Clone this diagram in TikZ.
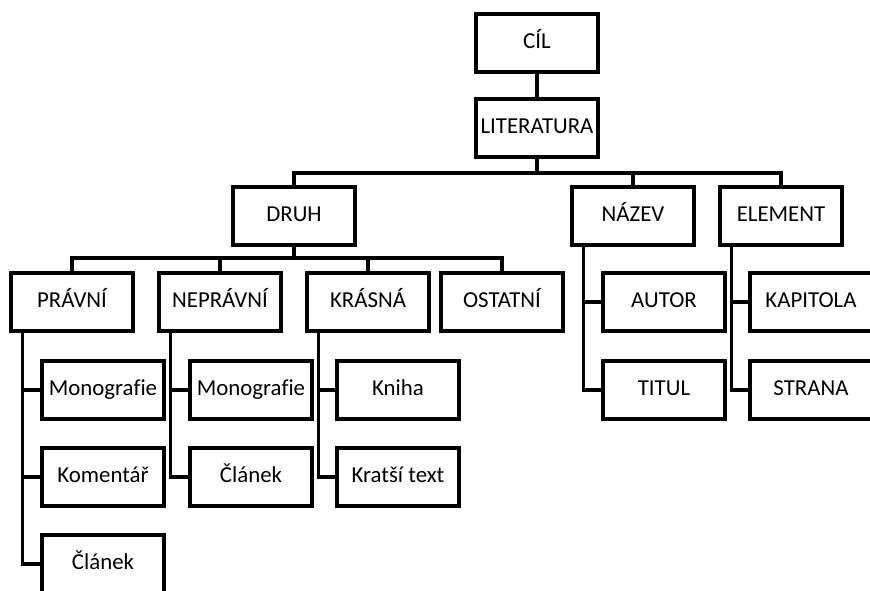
\documentclass[tikz,border=0pt]{standalone}
\usepackage{fontspec}
\setmainfont{Carlito}[Ligatures=NoCommon]
\usetikzlibrary{positioning}

\begin{document}
\begin{tikzpicture}[
  x=0.02cm,y=-0.02cm,
  every node/.style={font=\fontsize{13}{15}\selectfont, inner sep=0pt,
    text height=0.8em, text depth=0.156em},
  box/.style={draw=black,line width=2.1pt,fill=white,minimum width=2.43cm,minimum height=1.17cm},
  conn/.style={draw=black,line width=2.1pt}]

  \useasboundingbox (0,0) rectangle (870,591);
  \clip (0,0) rectangle (870,591);

  \node[box] (cil)      at (537, 43)  {CÍL};
  \node[box] (lit)      at (537,128)  {LITERATURA};
  \node[box] (druh)     at (294,216)  {DRUH};
  \node[box] (nazev)    at (633,216)  {NÁZEV};
  \node[box] (element)  at (781,216)  {ELEMENT};
  \node[box] (pravni)   at ( 72,302)  {PRÁVNÍ};
  \node[box] (nepravni) at (220,302)  {NEPRÁVNÍ};
  \node[box] (krasna)   at (368,302)  {KRÁSNÁ};
  \node[box] (ostatni)  at (502,302)  {OSTATNÍ};
  \node[box] (autor)    at (664,302)  {AUTOR};
  \node[box] (titul)    at (664,390)  {TITUL};
  \node[box] (kapitola) at (811,302)  {KAPITOLA};
  \node[box] (strana)   at (811,390)  {STRANA};
  \node[box] (monoA)    at (103,390)  {Monografie};
  \node[box] (koment)   at (103,477)  {Komentář};
  \node[box] (clanekA)  at (103,564)  {Článek};
  \node[box] (monoB)    at (251,390)  {Monografie};
  \node[box] (clanekB)  at (251,477)  {Článek};
  \node[box] (kniha)    at (398,390)  {Kniha};
  \node[box] (kratsi)   at (398,477)  {Kratší text};

  \coordinate (litBus)    at ([yshift=-0.28cm] lit.south);
  \coordinate (druhBus)   at ([yshift=-0.22cm] druh.south);
  \coordinate (pravT)     at ([xshift=0.26cm] pravni.south west);
  \coordinate (nepravT)   at ([xshift=0.26cm] nepravni.south west);
  \coordinate (krasT)     at ([xshift=0.26cm] krasna.south west);
  \coordinate (nazevT)    at ([xshift=0.26cm] nazev.south west);
  \coordinate (elementT)  at ([xshift=0.26cm] element.south west);

  \draw[conn] (cil.south) -- (lit.north);

  \draw[conn] (lit.south) -- (litBus) -| (druh.north)
              (litBus) -| (nazev.north)
              (litBus) -| (element.north);

  \draw[conn] (druh.south) -- (druhBus) -| (pravni.north)
              (druhBus) -| (nepravni.north)
              (druhBus) -| (krasna.north)
              (druhBus) -| (ostatni.north);

  \draw[conn] (pravT) |- (monoA.west)
              (pravT) |- (koment.west)
              (pravT) |- (clanekA.west);
  \draw[conn] (nepravT) |- (monoB.west)
              (nepravT) |- (clanekB.west);
  \draw[conn] (krasT) |- (kniha.west)
              (krasT) |- (kratsi.west);
  \draw[conn] (nazevT) |- (autor.west)
              (nazevT) |- (titul.west);
  \draw[conn] (elementT) |- (kapitola.west)
              (elementT) |- (strana.west);

\end{tikzpicture}
\end{document}
